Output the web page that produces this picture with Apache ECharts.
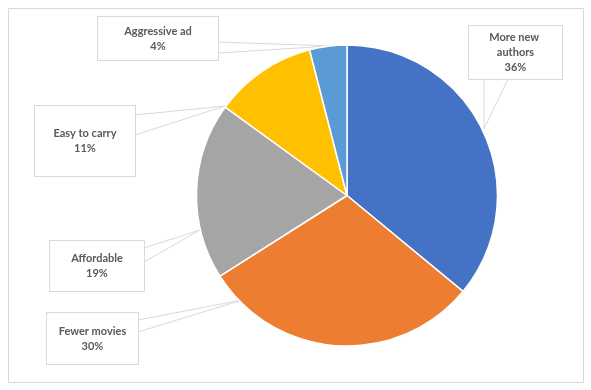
<!DOCTYPE html>
<html>
<head>
<meta charset="utf-8">
<script src="https://cdn.jsdelivr.net/npm/echarts@6/dist/echarts.min.js"></script>
<style>
html,body{margin:0;padding:0;background:#fff;}
#chart{width:591px;height:390px;}
</style>
</head>
<body>
<div id="chart"></div>
<script>
// Data
var categories = ['More new authors', 'Fewer movies', 'Affordable', 'Easy to carry', 'Aggressive ad'];
var shares = [36, 30, 19, 11, 4];
var colors = ['#4472C4', '#ED7D31', '#A5A5A5', '#FFC000', '#5B9BD5'];

// Callout layout: box [x0, y0, x1, y1], wedge base points and tip
var calloutBoxes = [
  [469, 26, 562, 79],
  [47, 313, 138, 364],
  [50, 241, 144, 291],
  [35, 106, 135, 176],
  [98, 17, 218, 60]
];
var calloutLines = [
  [[484, 79], [484, 129], [508, 79]],
  [[138, 320], [242, 300], [138, 332]],
  [[144, 248], [200, 230], [144, 262]],
  [[135, 115], [225, 106], [135, 135]],
  [[218, 42], [330, 46], [218, 53]]
];
var lineCounts = [3, 2, 2, 2, 2];

var LH = 15;
var data = categories.map(function (c, i) {
  var b = calloutBoxes[i];
  var w = b[2] - b[0], h = b[3] - b[1];
  var pv = (h - lineCounts[i] * LH) / 2;
  return {
    name: c,
    value: shares[i],
    itemStyle: { color: colors[i] },
    label: {
      width: w - 12,
      padding: [pv, 6, pv, 6]
    }
  };
});

var chart = echarts.init(document.getElementById('chart'), null, { renderer: 'canvas' });
chart.setOption({
  backgroundColor: '#ffffff',
  animation: false,
  graphic: [{
    type: 'rect',
    shape: { x: 8.5, y: 8.5, width: 575, height: 374 },
    style: { fill: 'none', stroke: '#d9d9d9', lineWidth: 1 },
    z: -1
  }],
  series: [{
    type: 'pie',
    center: [347, 195.5],
    radius: 150.5,
    startAngle: 90,
    clockwise: true,
    data: data,
    itemStyle: { borderColor: '#ffffff', borderWidth: 1.5 },
    label: {
      show: true,
      position: 'outside',
      formatter: function (p) { return p.name + '\n' + p.value + '%'; },
      fontFamily: 'Lato',
      fontWeight: 'bold',
      fontSize: 11,
      lineHeight: LH,
      color: '#595959',
      backgroundColor: '#ffffff',
      borderColor: '#d9d9d9',
      borderWidth: 1,
      overflow: 'break',
      align: 'center'
    },
    labelLine: {
      show: true,
      lineStyle: { color: '#d9d9d9', width: 1 }
    },
    labelLayout: function (params) {
      var i = params.dataIndex;
      var b = calloutBoxes[i];
      return {
        x: (b[0] + b[2]) / 2,
        y: (b[1] + b[3]) / 2,
        align: 'center',
        verticalAlign: 'middle',
        labelLinePoints: calloutLines[i]
      };
    }
  }]
});
</script>
</body>
</html>
